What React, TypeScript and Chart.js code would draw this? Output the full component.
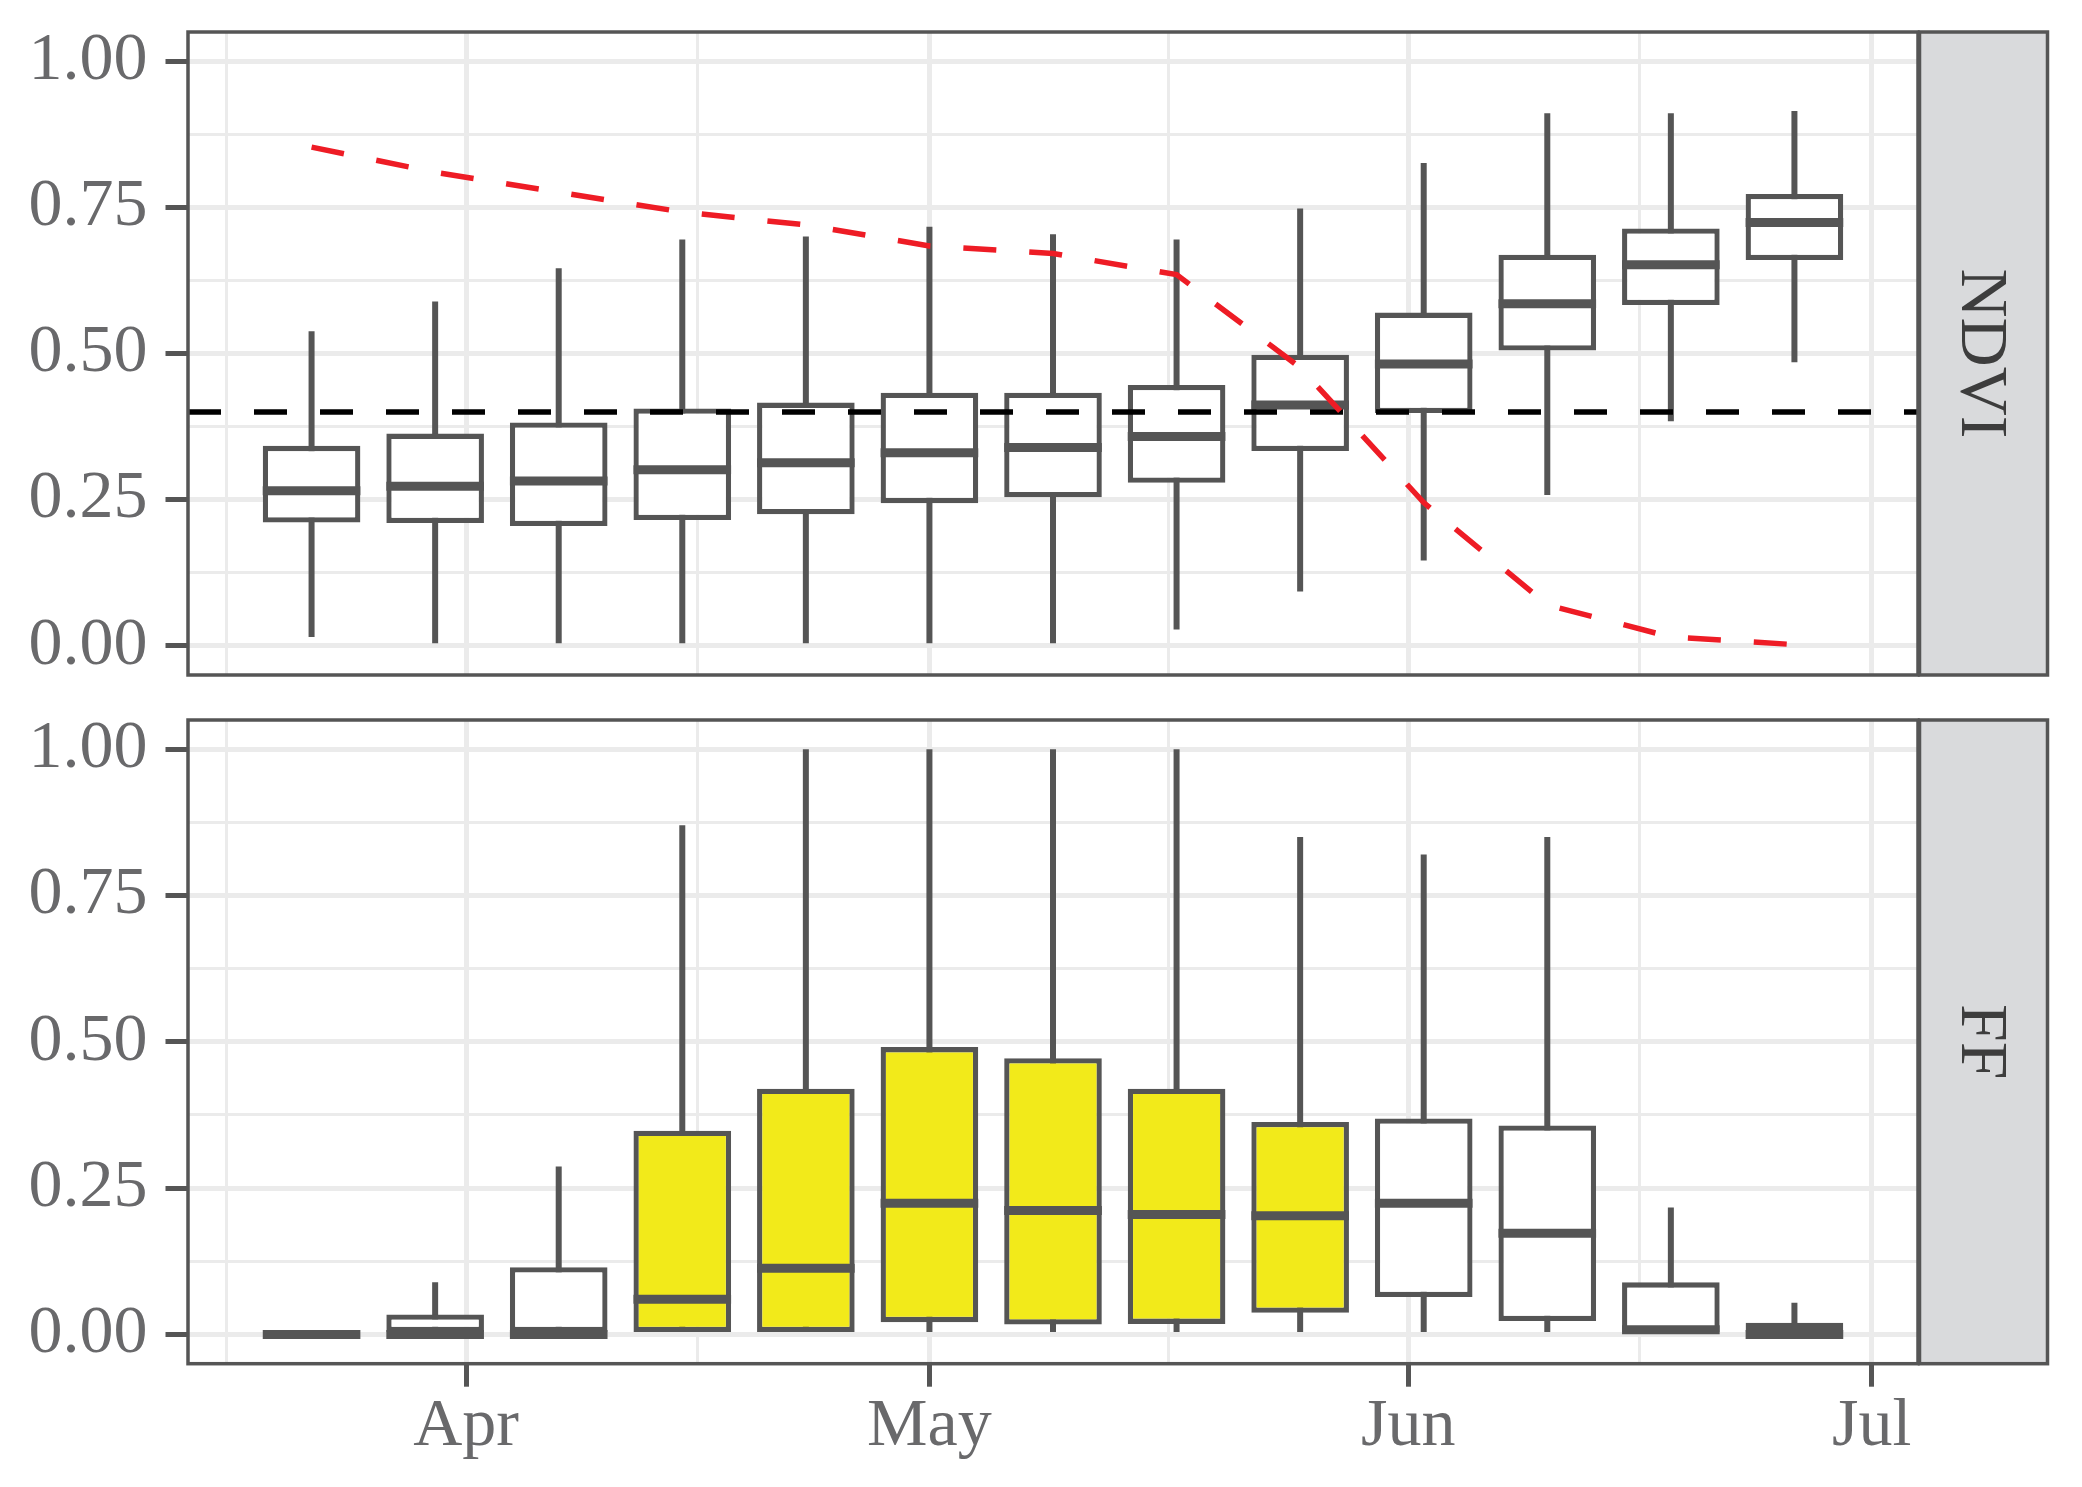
import { useEffect, useRef } from "react";
import { Chart, registerables } from "chart.js";

Chart.register(...registerables);

// 8-day composites, day of year
const DOY = [81, 89, 97, 105, 113, 121, 129, 137, 145, 153, 161, 169, 177];

// NDVI panel boxplots
const NDVI_LOW = [0.015, 0, 0, 0, 0, 0, 0, 0.028, 0.093, 0.146, 0.258, 0.384, 0.485];
const NDVI_Q1 = [0.211, 0.21, 0.205, 0.215, 0.225, 0.244, 0.254, 0.279, 0.333, 0.398, 0.505, 0.583, 0.66];
const NDVI_MED = [0.265, 0.273, 0.282, 0.301, 0.313, 0.33, 0.339, 0.358, 0.412, 0.482, 0.585, 0.652, 0.724];
const NDVI_Q3 = [0.342, 0.363, 0.382, 0.406, 0.416, 0.433, 0.433, 0.446, 0.498, 0.57, 0.669, 0.714, 0.773];
const NDVI_HIGH = [0.538, 0.589, 0.646, 0.695, 0.7, 0.717, 0.704, 0.695, 0.748, 0.826, 0.911, 0.911, 0.915];
const NDVI_CURVE = [0.853, 0.81, 0.776, 0.742, 0.72, 0.684, 0.671, 0.635, 0.476, 0.245, 0.07, 0.015, 0.002];
const THRESHOLD = 0.4;

// FF panel boxplots
const FF_LOW = [0, 0, 0, 0, 0, 0, 0, 0, 0, 0, 0, 0, 0];
const FF_Q1 = [0, 0, 0, 0, 0, 0.021, 0.017, 0.018, 0.037, 0.064, 0.023, 0, 0];
const FF_MED = [0, 0, 0, 0.06, 0.113, 0.224, 0.212, 0.205, 0.203, 0.224, 0.173, 0.008, 0];
const FF_Q3 = [0, 0.034, 0.115, 0.348, 0.42, 0.491, 0.472, 0.42, 0.363, 0.369, 0.357, 0.089, 0.02];
const FF_HIGH = [0, 0.089, 0.287, 0.87, 1, 1, 1, 1, 0.85, 0.82, 0.85, 0.217, 0.054];
const FF_FLOWERING = [false, false, false, true, true, true, true, true, true, false, false, false, false];

// axes
const MONTH_DOY = [91, 121, 152, 182];
const MONTH_LABELS = ["Apr", "May", "Jun", "Jul"];
const MINOR_DOY = [75.5, 106, 136.5, 167];
const Y_MAJOR = [0, 0.25, 0.5, 0.75, 1];
const Y_MINOR = [0.125, 0.375, 0.625, 0.875];
const X_MIN = 73;
const X_MAX = 185;
const Y_MIN = -0.05;
const Y_MAX = 1.05;

const BOX_RATIO = 0.79;
const LINE = "#555555";
const GRID = "#ebebeb";
const TEXT = "#69696b";
const FONT = "Liberation Serif";

const frame = {
  id: "frame",
  afterDraw(chart: any, _args: any, opts: any) {
    const { ctx, chartArea: a } = chart;
    ctx.save();
    const sx = a.right + 1.5;
    const sw = 128;
    ctx.fillStyle = "#d9dadc";
    ctx.fillRect(sx, a.top, sw, a.bottom - a.top);
    ctx.strokeStyle = LINE;
    ctx.lineWidth = 3.5;
    ctx.strokeRect(sx, a.top, sw, a.bottom - a.top);
    ctx.strokeRect(a.left, a.top, a.right - a.left, a.bottom - a.top);
    ctx.translate(sx + sw / 2, (a.top + a.bottom) / 2);
    ctx.rotate(Math.PI / 2);
    ctx.fillStyle = "#3d3d3d";
    ctx.font = `68px "${FONT}"`;
    ctx.textAlign = "center";
    ctx.textBaseline = "middle";
    ctx.fillText(opts.label, 0, 4);
    ctx.restore();
  },
};

const makeConfig = (
  label: string,
  low: number[],
  q1: number[],
  med: number[],
  q3: number[],
  high: number[],
  fills: string[],
  extra: any[],
  showX: boolean,
  padTop: number,
  xHeight: number
) => {
  const step = DOY[1] - DOY[0];
  const hw = (step * BOX_RATIO) / 2;
  const medianSegs = DOY.flatMap((d, i) => [
    { x: d - hw, y: med[i] },
    { x: d + hw, y: med[i] },
    { x: d, y: null },
  ]);
  const xMajor = (v: number) => MONTH_DOY.includes(v);
  const yMajor = (v: number) => Y_MAJOR.includes(v);
  return {
    type: "bar" as const,
    data: {
      datasets: [
        {
          type: "bar",
          data: DOY.map((d, i) => ({ x: d, y: [low[i], high[i]] })),
          backgroundColor: LINE,
          borderWidth: 0,
          grouped: false,
          maxBarThickness: 6,
          order: 5,
        },
        {
          type: "bar",
          data: DOY.map((d, i) => ({ x: d, y: [q1[i], q3[i]] })),
          backgroundColor: fills,
          borderColor: LINE,
          borderWidth: 5.3,
          borderSkipped: false,
          grouped: false,
          barPercentage: BOX_RATIO,
          categoryPercentage: 1,
          order: 4,
        },
        {
          type: "line",
          data: medianSegs,
          borderColor: LINE,
          borderWidth: 9,
          pointRadius: 0,
          spanGaps: false,
          tension: 0,
          order: 3,
        },
        ...extra,
      ],
    },
    options: {
      responsive: false,
      devicePixelRatio: 1,
      animation: false as const,
      events: [],
      layout: { padding: { top: padTop, right: 164, left: 0, bottom: 0 } },
      plugins: {
        legend: { display: false },
        tooltip: { enabled: false },
        frame: { label },
      },
      scales: {
        x: {
          type: "linear" as const,
          min: X_MIN,
          max: X_MAX,
          offset: false,
          border: { display: false },
          afterBuildTicks: (s: any) => {
            s.ticks = [...MINOR_DOY, ...MONTH_DOY].sort((p, q) => p - q).map((v) => ({ value: v }));
          },
          afterFit: (s: any) => {
            s.height = xHeight;
            s.paddingLeft = 0;
            s.paddingRight = 0;
          },
          grid: {
            offset: false,
            color: GRID,
            lineWidth: (c: any) => (c.tick && xMajor(c.tick.value) ? 5 : 3),
            drawTicks: showX,
            tickLength: 23,
            tickWidth: 5,
            tickColor: (c: any) => (c.tick && xMajor(c.tick.value) ? LINE : "rgba(0,0,0,0)"),
          },
          ticks: {
            display: showX,
            autoSkip: false,
            maxRotation: 0,
            padding: 0,
            color: TEXT,
            font: { family: FONT, size: 68 },
            callback: (v: any) => {
              const k = MONTH_DOY.indexOf(v);
              return k >= 0 ? MONTH_LABELS[k] : "";
            },
          },
        },
        y: {
          type: "linear" as const,
          min: Y_MIN,
          max: Y_MAX,
          border: { display: false },
          afterBuildTicks: (s: any) => {
            s.ticks = [...Y_MAJOR, ...Y_MINOR].sort((p, q) => p - q).map((v) => ({ value: v }));
          },
          afterFit: (s: any) => {
            s.width = 188;
            s.paddingTop = 0;
            s.paddingBottom = 0;
          },
          grid: {
            color: GRID,
            lineWidth: (c: any) => (c.tick && yMajor(c.tick.value) ? 5 : 3),
            tickLength: 22.5,
            tickWidth: 5,
            tickColor: (c: any) => (c.tick && yMajor(c.tick.value) ? LINE : "rgba(0,0,0,0)"),
          },
          ticks: {
            autoSkip: false,
            padding: 18,
            color: TEXT,
            font: { family: FONT, size: 68 },
            callback: (v: any) => (yMajor(v) ? Number(v).toFixed(2) : ""),
          },
        },
      },
    },
    plugins: [frame],
  };
};

const App = () => {
  const topRef = useRef<HTMLCanvasElement | null>(null);
  const botRef = useRef<HTMLCanvasElement | null>(null);

  useEffect(() => {
    if (!topRef.current || !botRef.current) return;

    const ndviExtra = [
      {
        type: "line",
        data: [
          { x: X_MIN, y: THRESHOLD },
          { x: X_MAX, y: THRESHOLD },
        ],
        borderColor: "#000000",
        borderWidth: 5.5,
        borderDash: [33, 33],
        pointRadius: 0,
        order: 2,
      },
      {
        type: "line",
        data: DOY.map((d, i) => ({ x: d, y: NDVI_CURVE[i] })),
        borderColor: "#ee1c25",
        borderWidth: 5.5,
        borderDash: [33, 33],
        pointRadius: 0,
        tension: 0,
        order: 1,
      },
    ];

    const top = new Chart(
      topRef.current,
      makeConfig(
        "NDVI",
        NDVI_LOW,
        NDVI_Q1,
        NDVI_MED,
        NDVI_Q3,
        NDVI_HIGH,
        DOY.map(() => "#ffffff"),
        ndviExtra,
        false,
        32,
        25
      ) as any
    );
    const bot = new Chart(
      botRef.current,
      makeConfig(
        "FF",
        FF_LOW,
        FF_Q1,
        FF_MED,
        FF_Q3,
        FF_HIGH,
        FF_FLOWERING.map((f) => (f ? "#f2ea1a" : "#ffffff")),
        [],
        true,
        20,
        123.3
      ) as any
    );

    return () => {
      top.destroy();
      bot.destroy();
    };
  }, []);

  return (
    <div style={{ position: "absolute", left: 0, top: 0, width: 2082, height: 1487, background: "#fff" }}>
      <canvas ref={topRef} width={2082} height={700} style={{ position: "absolute", left: 0, top: 0, width: 2082, height: 700 }} />
      <canvas ref={botRef} width={2082} height={787} style={{ position: "absolute", left: 0, top: 700, width: 2082, height: 787 }} />
    </div>
  );
};

export default App;
